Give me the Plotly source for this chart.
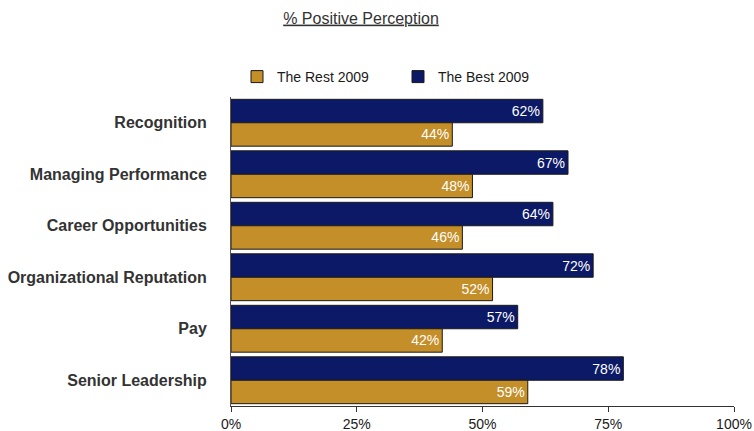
import plotly.graph_objects as go

categories = ["Recognition", "Managing Performance", "Career Opportunities",
              "Organizational Reputation", "Pay", "Senior Leadership"]
best_2009 = [62, 67, 64, 72, 57, 78]
rest_2009 = [44, 48, 46, 52, 42, 59]
tick_vals = [0, 25, 50, 75, 100]
tick_text = ["0%", "25%", "50%", "75%", "100%"]

BLUE = "#0B1966"
GOLD = "#C48E28"
FONT = "Arial, Liberation Sans, sans-serif"

fig = go.Figure()
for name, vals, color in [("The Best 2009", best_2009, BLUE),
                          ("The Rest 2009", rest_2009, GOLD)]:
    fig.add_trace(go.Bar(
        y=categories, x=vals, name=name, orientation="h",
        marker=dict(color=color, line=dict(color="#1a1a1a", width=1)),
        text=[f"{v}%" for v in vals], textposition="inside",
        insidetextanchor="end", constraintext="none",
        textfont=dict(color="white", size=14, family=FONT),
        hoverinfo="skip",
    ))

fig.update_layout(
    width=754, height=431,
    margin=dict(l=231, r=20, t=97, b=25, autoexpand=False),
    paper_bgcolor="white", plot_bgcolor="white",
    barmode="group", bargap=0.09, bargroupgap=0,
    font=dict(family=FONT, color="#333333"),
    showlegend=True,
    legend=dict(orientation="h", x=237 / 754, xanchor="left", xref="container",
                y=1 - 77 / 431, yanchor="middle", yref="container",
                traceorder="reversed",
                font=dict(size=14, color="#1a1a1a", family=FONT),
                itemwidth=30, entrywidth=116),
    title=dict(text="<u>% Positive Perception</u>", x=361 / 754, xanchor="center",
               y=1 - 18 / 431, yanchor="middle",
               font=dict(size=16, color="#333333", family=FONT)),
    xaxis=dict(range=[0, 100], tickvals=tick_vals, ticktext=tick_text,
               showgrid=False, zeroline=False, showline=True, automargin=False,
               linecolor="#333333", linewidth=1, ticks="outside",
               ticklen=5, tickcolor="#333333",
               tickfont=dict(size=14, color="#1a1a1a")),
    yaxis=dict(autorange="reversed", showgrid=False, zeroline=False,
               showline=True, linecolor="#555555", linewidth=1, automargin=False,
               ticks="", ticklabelstandoff=20,
               tickfont=dict(size=16, color="#333333", family=FONT, weight="bold")),
)

fig.write_html("out.html")
